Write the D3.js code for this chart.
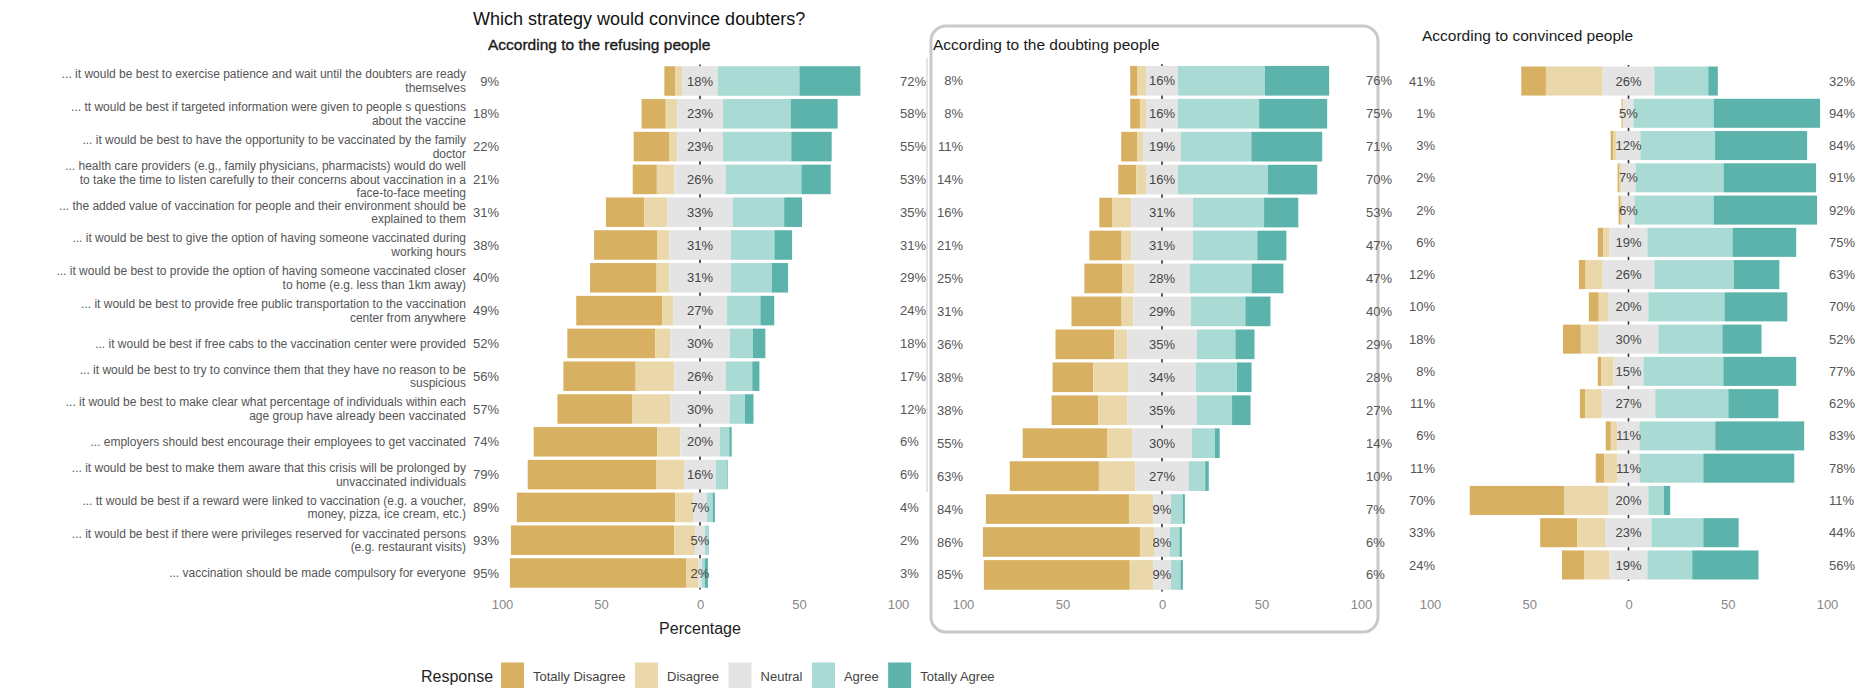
<!DOCTYPE html>
<html>
<head>
<meta charset="utf-8">
<script src="https://cdn.jsdelivr.net/npm/d3@7"></script>
<style>
    body { margin: 0; background: #fff; }
    svg { display: block; font-family: "Liberation Sans", Arial, sans-serif; }
</style>
</head>
<body>
<svg id="chart" width="1872" height="688"></svg>
<script>
/*global d3*/

// Statements, top to bottom (line breaks as in the original figure)
var statements = [
    ["... it would be best to exercise patience and wait until the doubters are ready", "themselves"],
    ["... tt would be best if targeted information were given to people s questions", "about the vaccine"],
    ["... it would be best to have the opportunity to be vaccinated by the family", "doctor"],
    ["... health care providers (e.g., family physicians, pharmacists) would do well", "to take the time to listen carefully to their concerns about vaccination in a", "face-to-face meeting"],
    ["... the added value of vaccination for people and their environment should be", "explained to them"],
    ["... it would be best to give the option of having someone vaccinated during", "working hours"],
    ["... it would be best to provide the option of having someone vaccinated closer", "to home (e.g. less than 1km away)"],
    ["... it would be best to provide free public transportation to the vaccination", "center from anywhere"],
    ["... it would be best if free cabs to the vaccination center were provided"],
    ["... it would be best to try to convince them that they have no reason to be", "suspicious"],
    ["... it would be best to make clear what percentage of individuals within each", "age group have already been vaccinated"],
    ["... employers should best encourage their employees to get vaccinated"],
    ["... it would be best to make them aware that this crisis will be prolonged by", "unvaccinated individuals"],
    ["... tt would be best if a reward were linked to vaccination (e.g. a voucher,", "money, pizza, ice cream, etc.)"],
    ["... it would be best if there were privileges reserved for vaccinated persons", "(e.g. restaurant visits)"],
    ["... vaccination should be made compulsory for everyone"]
];

var responses = ["Totally Disagree", "Disagree", "Neutral", "Agree", "Totally Agree"];
var responseColors = ["#D8B062", "#EBD8AA", "#E4E4E4", "#A9DAD4", "#5BB3AB"];
var ticks = [-100, -50, 0, 50, 100];

// According to the refusing people (%)
var refusingTotallyDisagree = [5.4, 12.2, 18.1, 12.2, 19.4, 31.8, 33.6, 43.3, 44.4, 36.5, 37.7, 62.4, 64.8, 80, 82.5, 89.2];
var refusingDisagree = [3.6, 5.8, 3.9, 8.8, 11.6, 6.2, 6.4, 5.7, 7.6, 19.5, 19.3, 11.6, 14.2, 9, 10.5, 5.8];
var refusingNeutral = [18, 23, 23, 26, 33, 31, 31, 27, 30, 26, 30, 20, 16, 7, 5, 2];
var refusingAgree = [41.2, 34.3, 34.6, 38.2, 26, 22.1, 20.8, 17, 11.7, 13.4, 7.7, 4.8, 5.7, 2.9, 1.8, 1.5];
var refusingTotallyAgree = [30.8, 23.7, 20.4, 14.8, 9, 8.9, 8.2, 7, 6.3, 3.6, 4.3, 1.2, 0.3, 1.1, 0.2, 1.5];

// According to the doubting people (%)
var doubtingTotallyDisagree = [3.7, 4.9, 8, 9.1, 6.6, 16.2, 18.9, 25.2, 29.5, 20.5, 23.5, 42.6, 44.8, 71.9, 78.9, 73.3];
var doubtingDisagree = [4.3, 3.1, 3, 4.9, 9.4, 4.8, 6.1, 5.8, 6.5, 17.5, 14.5, 12.4, 18.2, 12.1, 7.1, 11.7];
var doubtingNeutral = [16, 16, 19, 16, 31, 31, 28, 29, 35, 34, 35, 30, 27, 9, 8, 9];
var doubtingAgree = [43.7, 40.8, 35.4, 45.2, 35.8, 32.4, 31, 27.4, 19.4, 20.7, 17.7, 11.6, 8.2, 6, 4.8, 4.8];
var doubtingTotallyAgree = [32.3, 34.2, 35.6, 24.8, 17.2, 14.6, 16, 12.6, 9.6, 7.3, 9.3, 2.4, 1.8, 1, 1.2, 1.2];

// According to convinced people (%)
var convincedTotallyDisagree = [12.4, 0.6, 1.2, 0.7, 1, 2.8, 3.4, 5, 9, 1.9, 2.8, 2.6, 4.2, 47.5, 18.7, 11.3];
var convincedDisagree = [28.6, 0.4, 1.8, 1.3, 1, 3.2, 8.6, 5, 9, 6.1, 8.2, 3.4, 6.8, 22.5, 14.3, 12.7];
var convincedNeutral = [26, 5, 12, 7, 6, 19, 26, 20, 30, 15, 27, 11, 11, 20, 23, 19];
var convincedAgree = [27.2, 40.4, 37.6, 44.4, 39.9, 42.9, 40, 38.4, 32.3, 40.3, 36.8, 38.2, 32.2, 7.9, 26.2, 22.6];
var convincedTotallyAgree = [4.8, 53.6, 46.4, 46.6, 52.1, 32.1, 23, 31.6, 19.7, 36.7, 25.2, 44.8, 45.8, 3.1, 17.8, 33.4];

(function () {
    "use strict";

    var svg = d3.select("#chart");

    // panel layout: where each likert block sits on the page
    var panels = [
        {
            title: "According to the refusing people", titleX: 488, titleY: 50,
            xRange: [502, 898], yRange: [64.6, 589.4], lowX: 499, highX: 900,
            series: [refusingTotallyDisagree, refusingDisagree, refusingNeutral, refusingAgree, refusingTotallyAgree]
        },
        {
            title: "According to the doubting people", titleX: 933, titleY: 50,
            xRange: [963, 1361], yRange: [64.3, 591.4], lowX: 963, highX: 1366,
            series: [doubtingTotallyDisagree, doubtingDisagree, doubtingNeutral, doubtingAgree, doubtingTotallyAgree]
        },
        {
            title: "According to convinced people", titleX: 1422, titleY: 41,
            xRange: [1430, 1827], yRange: [64.9, 581.1], lowX: 1435, highX: 1829,
            series: [convincedTotallyDisagree, convincedDisagree, convincedNeutral, convincedAgree, convincedTotallyAgree]
        }
    ];

    var rowIds = d3.range(statements.length);

    // faint screenshot edge next to the first panel
    svg.append("line")
        .attr("x1", 927).attr("x2", 927).attr("y1", 58).attr("y2", 492)
        .attr("stroke", "#e4e4e4").attr("stroke-width", 2);

    // rounded frame around the doubting panel
    svg.append("rect")
        .attr("x", 931).attr("y", 26).attr("width", 447).attr("height", 606)
        .attr("rx", 15).attr("ry", 15)
        .attr("fill", "none").attr("stroke", "#c9c9c9").attr("stroke-width", 3);

    svg.append("text")
        .attr("x", 473).attr("y", 25)
        .attr("font-size", 18).attr("fill", "#111")
        .text("Which strategy would convince doubters?");

    panels.forEach(function (p, pi) {
        var x = d3.scaleLinear().domain([-100, 100]).range(p.xRange),
            y = d3.scaleBand().domain(rowIds).range(p.yRange).paddingInner(0.1).paddingOuter(0.05),
            g = svg.append("g");

        // rows: stacked segments shifted so Neutral straddles zero
        var rows = rowIds.map(function (i) {
            var vals = p.series.map(function (s) { return s[i]; }),
                start = -(vals[0] + vals[1] + vals[2] / 2),
                segs = [],
                acc = start;
            vals.forEach(function (v, k) {
                segs.push({ k: k, x0: acc, x1: acc + v });
                acc += v;
            });
            return {
                i: i,
                segs: segs,
                low: vals[0] + vals[1],
                neutral: vals[2],
                high: vals[3] + vals[4]
            };
        });

        // zero line behind the bars, shows through the gaps
        g.append("line")
            .attr("x1", x(0)).attr("x2", x(0))
            .attr("y1", p.yRange[0]).attr("y2", p.yRange[1])
            .attr("stroke", "#333").attr("stroke-width", 1.6);

        var rowG = g.selectAll("g.row").data(rows).enter().append("g")
            .attr("class", "row")
            .attr("transform", function (d) { return "translate(0," + y(d.i) + ")"; });

        rowG.selectAll("rect").data(function (d) { return d.segs; }).enter().append("rect")
            .attr("x", function (d) { return x(d.x0); })
            .attr("width", function (d) { return Math.max(0, x(d.x1) - x(d.x0)); })
            .attr("height", y.bandwidth())
            .attr("fill", function (d) { return responseColors[d.k]; });

        rowG.append("text")
            .attr("x", x(0)).attr("y", y.bandwidth() / 2)
            .attr("dy", "0.35em").attr("text-anchor", "middle")
            .attr("font-size", 13).attr("fill", "#444")
            .text(function (d) { return Math.round(d.neutral) + "%"; });

        rowG.append("text")
            .attr("x", p.lowX).attr("y", y.bandwidth() / 2)
            .attr("dy", "0.35em").attr("text-anchor", "end")
            .attr("font-size", 13).attr("fill", "#555")
            .text(function (d) { return Math.round(d.low) + "%"; });

        rowG.append("text")
            .attr("x", p.highX).attr("y", y.bandwidth() / 2)
            .attr("dy", "0.35em").attr("text-anchor", "start")
            .attr("font-size", 13).attr("fill", "#555")
            .text(function (d) { return Math.round(d.high) + "%"; });

        // x axis, no line, absolute tick values
        var axis = g.append("g")
            .attr("transform", "translate(0,600)")
            .call(d3.axisBottom(x).tickValues(ticks).tickSize(0).tickPadding(0)
                .tickFormat(function (v) { return Math.abs(v); }));
        axis.select(".domain").remove();
        axis.selectAll("text")
            .attr("font-size", 13).attr("fill", "#888")
            .attr("font-family", "Liberation Sans, Arial, sans-serif");

        g.append("text")
            .attr("x", p.titleX).attr("y", p.titleY)
            .attr("font-size", 15.5).attr("fill", "#1a1a1a")
            .attr("stroke", pi === 0 ? "#1a1a1a" : "none")
            .attr("stroke-width", 0.35)
            .text(p.title);

        if (pi === 0) {
            // statement labels on the left of the first panel
            var lab = g.selectAll("text.stmt").data(rowIds).enter().append("text")
                .attr("class", "stmt")
                .attr("text-anchor", "end")
                .attr("font-size", 12).attr("fill", "#555");
            lab.each(function (i) {
                var lines = statements[i],
                    lh = 13.7,
                    cy = y(i) + y.bandwidth() / 2,
                    top = cy - (lines.length - 1) * lh / 2;
                d3.select(this).selectAll("tspan").data(lines).enter().append("tspan")
                    .attr("x", 466)
                    .attr("y", function (t, j) { return top + j * lh; })
                    .attr("dy", "0.35em")
                    .text(function (t) { return t; });
            });

            g.append("text")
                .attr("x", x(0)).attr("y", 628).attr("dy", "0.35em")
                .attr("text-anchor", "middle")
                .attr("font-size", 16).attr("fill", "#222")
                .text("Percentage");
        }
    });

    // legend
    var legend = svg.append("g").attr("transform", "translate(0,676)");
    legend.append("text")
        .attr("x", 421).attr("dy", "0.35em")
        .attr("font-size", 16).attr("fill", "#222")
        .text("Response");

    var lx = 501;
    responses.forEach(function (r, k) {
        legend.append("rect")
            .attr("x", lx).attr("y", -13.5)
            .attr("width", 23).attr("height", 27)
            .attr("fill", responseColors[k]);
        var t = legend.append("text")
            .attr("x", lx + 32).attr("dy", "0.35em")
            .attr("font-size", 13).attr("fill", "#444")
            .text(r);
        lx = lx + 32 + t.node().getComputedTextLength() + 9.5;
    });
}());
</script>
</body>
</html>
